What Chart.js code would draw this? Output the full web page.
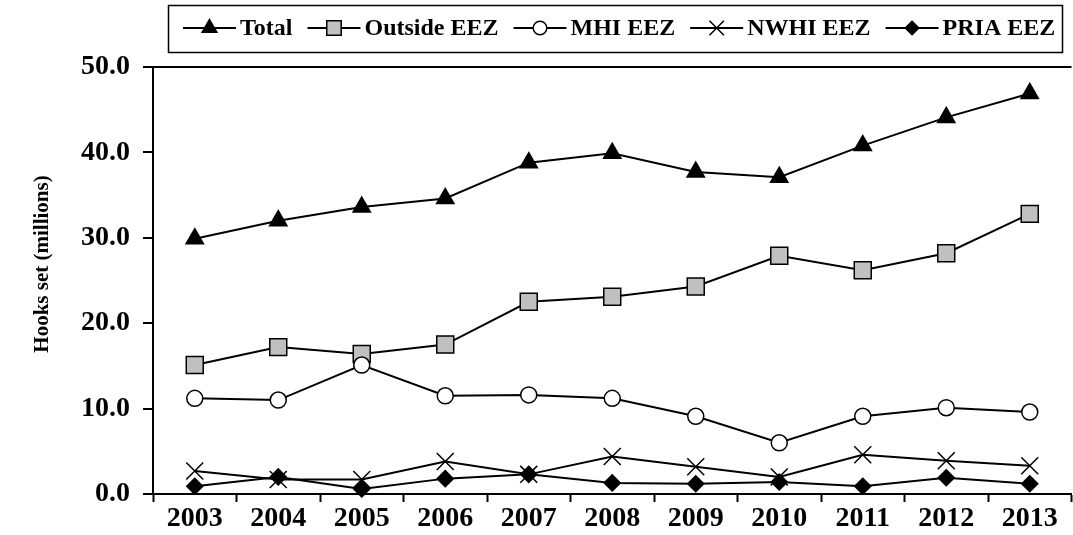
<!DOCTYPE html>
<html>
<head>
<meta charset="utf-8">
<title>Hooks set by area</title>
<script src="https://cdn.jsdelivr.net/npm/chart.js@4.4.0/dist/chart.umd.min.js"></script>
<style>
  html, body { margin: 0; padding: 0; background: #fff; overflow: hidden; }
</style>
</head>
<body>
<canvas id="hooksChart" width="1085" height="535"></canvas>
<script>
// Hooks set per year (millions), by fishing area
const years = ['2003', '2004', '2005', '2006', '2007', '2008', '2009', '2010', '2011', '2012', '2013'];
const total = [29.9, 32.0, 33.6, 34.6, 38.8, 39.9, 37.7, 37.1, 40.8, 44.1, 46.9];
const outsideEez = [15.1, 17.2, 16.4, 17.5, 22.5, 23.1, 24.3, 27.9, 26.2, 28.2, 32.8];
const mhiEez = [11.2, 11.0, 15.1, 11.5, 11.6, 11.2, 9.1, 6.0, 9.1, 10.1, 9.6];
const nwhiEez = [2.7, 1.7, 1.7, 3.8, 2.3, 4.4, 3.2, 2.0, 4.6, 3.9, 3.3];
const priaEez = [0.9, 2.0, 0.6, 1.8, 2.3, 1.3, 1.2, 1.4, 0.9, 1.9, 1.2];
const yTicks = [0, 10, 20, 30, 40, 50];
const yTitle = 'Hooks set (millions)';

const FONT = "'Liberation Serif', 'Times New Roman', serif";

function series(label, data, style, radius, fill, order) {
    return {
        label: label,
        data: data,
        order: order,
        borderColor: '#000',
        borderWidth: 2,
        tension: 0,
        fill: false,
        clip: false,
        pointStyle: style,
        pointRadius: radius,
        pointHoverRadius: radius,
        pointBackgroundColor: fill,
        pointBorderColor: '#000',
        pointBorderWidth: 1.5,
        pointHoverBorderWidth: 1.5
    };
}

// Boxed legend across the top (line sample with marker, then label)
// plus the rotated y title, which sits a little above the axis middle
const chartDecor = {
    id: 'chartDecor',
    afterDraw(chart) {
        const ctx = chart.ctx;
        ctx.save();
        ctx.strokeStyle = '#000';
        ctx.lineWidth = 1.5;
        ctx.strokeRect(168.5, 5.5, 894, 47);

        ctx.font = 'bold 24px ' + FONT;
        ctx.textBaseline = 'middle';
        const y = 28;
        let x = 183;
        chart.data.datasets.forEach(ds => {
            ctx.beginPath();
            ctx.moveTo(x, y);
            ctx.lineTo(x + 53, y);
            ctx.lineWidth = 2;
            ctx.strokeStyle = '#000';
            ctx.stroke();

            ctx.fillStyle = ds.pointBackgroundColor;
            ctx.strokeStyle = '#000';
            ctx.lineWidth = ds.pointBorderWidth;
            Chart.helpers.drawPoint(ctx, {
                pointStyle: ds.pointStyle,
                radius: ds.pointRadius * 0.85,
                borderWidth: ds.pointBorderWidth,
                rotation: 0
            }, x + 26.5, y);

            ctx.fillStyle = '#000';
            ctx.fillText(ds.label, x + 57, y + 1);
            x += 57 + ctx.measureText(ds.label).width + 15;
        });

        ctx.translate(43, 264);
        ctx.rotate(-Math.PI / 2);
        ctx.font = 'bold 21px ' + FONT;
        ctx.textAlign = 'center';
        ctx.fillStyle = '#000';
        ctx.fillText(yTitle, 0, 0);
        ctx.restore();
    }
};

new Chart(document.getElementById('hooksChart'), {
    type: 'line',
    data: {
        labels: years,
        datasets: [
            series('Total', total, 'triangle', 10, '#000', 5),
            series('Outside EEZ', outsideEez, 'rect', 12, '#c0c0c0', 4),
            series('MHI EEZ', mhiEez, 'circle', 8, '#fff', 3),
            series('NWHI EEZ', nwhiEez, 'crossRot', 12, '#000', 2),
            series('PRIA EEZ', priaEez, 'rectRot', 8, '#000', 1)
        ]
    },
    options: {
        responsive: false,
        animation: false,
        layout: {
            padding: { left: 0, top: 67, right: 6, bottom: 0 }
        },
        plugins: {
            legend: { display: false },
            tooltip: { enabled: false }
        },
        scales: {
            x: {
                offset: true,
                grid: {
                    offset: true,
                    drawOnChartArea: false,
                    drawTicks: true,
                    tickLength: 8,
                    tickColor: '#000',
                    tickWidth: 2
                },
                border: { color: '#000', width: 2 },
                ticks: {
                    color: '#000',
                    font: { family: FONT, size: 28, weight: 'bold' },
                    padding: 0,
                    maxRotation: 0,
                    autoSkip: false
                },
                afterFit: scale => { scale.height = 41; }
            },
            y: {
                min: yTicks[0],
                max: yTicks[yTicks.length - 1],
                afterBuildTicks: scale => {
                    scale.ticks = yTicks.map(v => ({ value: v }));
                },
                grid: {
                    // only the top line of the plot frame
                    color: ctx => (ctx.tick && ctx.tick.value === 50) ? '#000' : 'rgba(0,0,0,0)',
                    lineWidth: 2,
                    tickColor: '#000',
                    tickLength: 10,
                    tickWidth: 2
                },
                border: { color: '#000', width: 2 },
                ticks: {
                    color: '#000',
                    font: { family: FONT, size: 28, weight: 'bold' },
                    padding: 13,
                    callback: v => v.toFixed(1)
                },
                afterFit: scale => { scale.width = 153; }
            }
        }
    },
    plugins: [chartDecor]
});
</script>
</body>
</html>
